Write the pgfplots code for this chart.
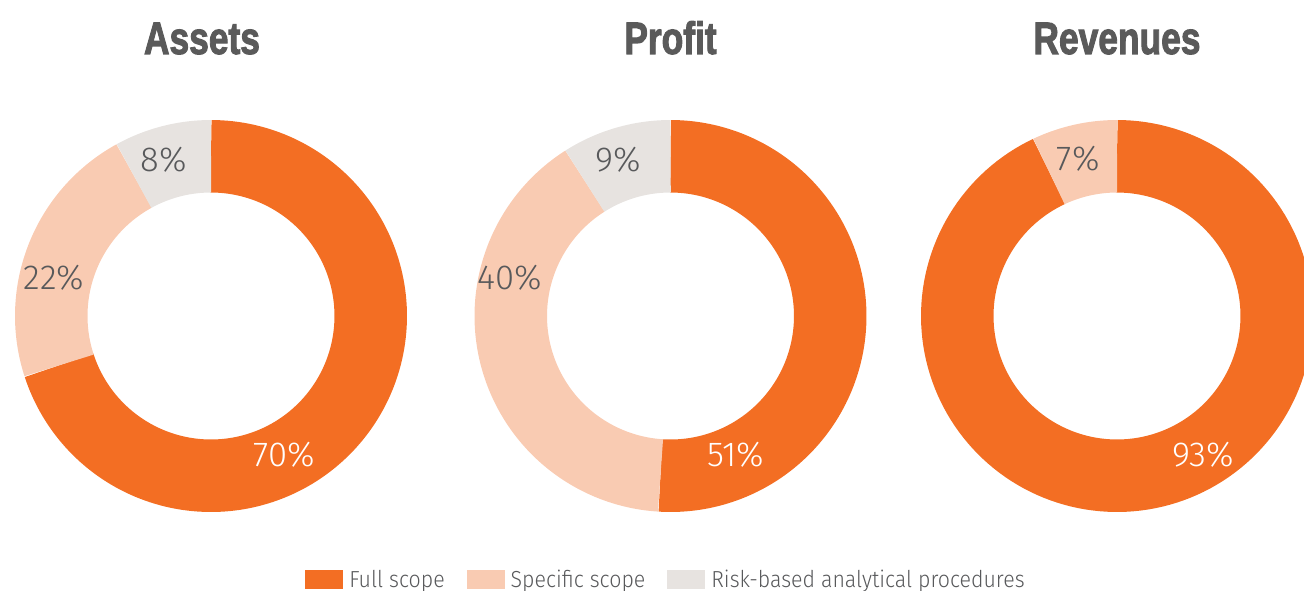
\documentclass[border=0pt]{standalone}
\usepackage{pgfplots}
\pgfplotsset{compat=1.18}
\usepackage{fontspec}
\setmainfont{Fira Sans Light}
\newfontfamily\titlefont{Liberation Sans Bold}[FakeBold=2.5]
\definecolor{cFull}{HTML}{F36E23}
\definecolor{cSpec}{HTML}{F9CBB2}
\definecolor{cRisk}{HTML}{E7E3E0}
\definecolor{cText}{HTML}{58595B}
\definecolor{cTitle}{HTML}{5A5A5A}
\pgfplotsset{
  donut/.style={hide axis, scale only axis, width=294pt, height=294pt,
    xmin=-1, xmax=1, ymin=-1, ymax=1, clip=false, anchor=center},
  ring/.style={line width=54.375pt, samples=160, no markers},
  legsq/.style={legend image code/.code={\fill[#1, draw=none, line width=0pt] (0pt,-7.125pt) rectangle (28.5pt,7.125pt);}},
}
\newcommand{\legtxt}[1]{\scalebox{0.92}[1]{#1}}
\tikzset{
  lbl/.style={font=\fontsize{26}{28}\selectfont, text=cText, inner sep=0pt, anchor=center},
  lblw/.style={lbl, text=white},
  ttl/.style={font=\titlefont\fontsize{34}{36}\selectfont, text=cTitle, inner sep=0pt, anchor=base},
}
\begin{document}
\begin{tikzpicture}
\path[use as bounding box] (0pt,0pt) rectangle (978pt,-442.5pt);
\clip (0pt,0pt) rectangle (978pt,-442.5pt);
% Assets: 70 / 22 / 8
\begin{axis}[donut, at={(158.25pt,-237pt)},
  legend columns=3,
  legend style={at={(0.7398,-0.172)}, anchor=west, draw=none, fill=none,
    inner sep=0pt, nodes={inner sep=0pt},
    font=\fontsize{17.4}{20}\selectfont, text=cText,
    /tikz/every odd column/.append style={column sep=4.5pt},
    /tikz/every even column/.append style={column sep=16.5pt}}]
\addplot[ring, draw=cFull, legsq=cFull, domain=0:70] ({0.815*cos(90-3.6*x)},{0.815*sin(90-3.6*x)});
\addlegendentry{\legtxt{Full scope}}
\addplot[ring, draw=cSpec, legsq=cSpec, domain=70:92] ({0.815*cos(90-3.6*x)},{0.815*sin(90-3.6*x)});
\addlegendentry{\legtxt{Specific scope}}
\addplot[ring, draw=cRisk, legsq=cRisk, domain=92:100] ({0.815*cos(90-3.6*x)},{0.815*sin(90-3.6*x)});
\addlegendentry{\legtxt{Risk-based analytical procedures}}
\node[lbl] at (axis cs:-0.240,0.798) {8\%};
\node[lbl] at (axis cs:-0.801,0.196) {22\%};
\node[lblw] at (axis cs:0.375,-0.709) {70\%};
\node[ttl] at (axis cs:-0.046,1.337) {\scalebox{0.78}[1]{Assets}};
\end{axis}
% Profit: 51 / 40 / 9
\begin{axis}[donut, at={(502.875pt,-237pt)}]
\addplot[ring, draw=cFull, domain=0:51] ({0.815*cos(90-3.6*x)},{0.815*sin(90-3.6*x)});
\addplot[ring, draw=cSpec, domain=51:91] ({0.815*cos(90-3.6*x)},{0.815*sin(90-3.6*x)});
\addplot[ring, draw=cRisk, domain=91:100] ({0.815*cos(90-3.6*x)},{0.815*sin(90-3.6*x)});
\node[lbl] at (axis cs:-0.268,0.798) {9\%};
\node[lbl] at (axis cs:-0.821,0.196) {40\%};
\node[lblw] at (axis cs:0.334,-0.709) {51\%};
\node[ttl] at (axis cs:0,1.337) {\scalebox{0.78}[1]{Profit}};
\end{axis}
% Revenues: 93 / 7
\begin{axis}[donut, at={(837.75pt,-237pt)}]
\addplot[ring, draw=cFull, domain=0:93] ({0.815*cos(90-3.6*x)},{0.815*sin(90-3.6*x)});
\addplot[ring, draw=cSpec, domain=93:100] ({0.815*cos(90-3.6*x)},{0.815*sin(90-3.6*x)});
\node[lbl] at (axis cs:-0.199,0.800) {7\%};
\node[lblw] at (axis cs:0.439,-0.709) {93\%};
\node[ttl] at (axis cs:0,1.337) {\scalebox{0.78}[1]{Revenues}};
\end{axis}
\end{tikzpicture}
\end{document}
